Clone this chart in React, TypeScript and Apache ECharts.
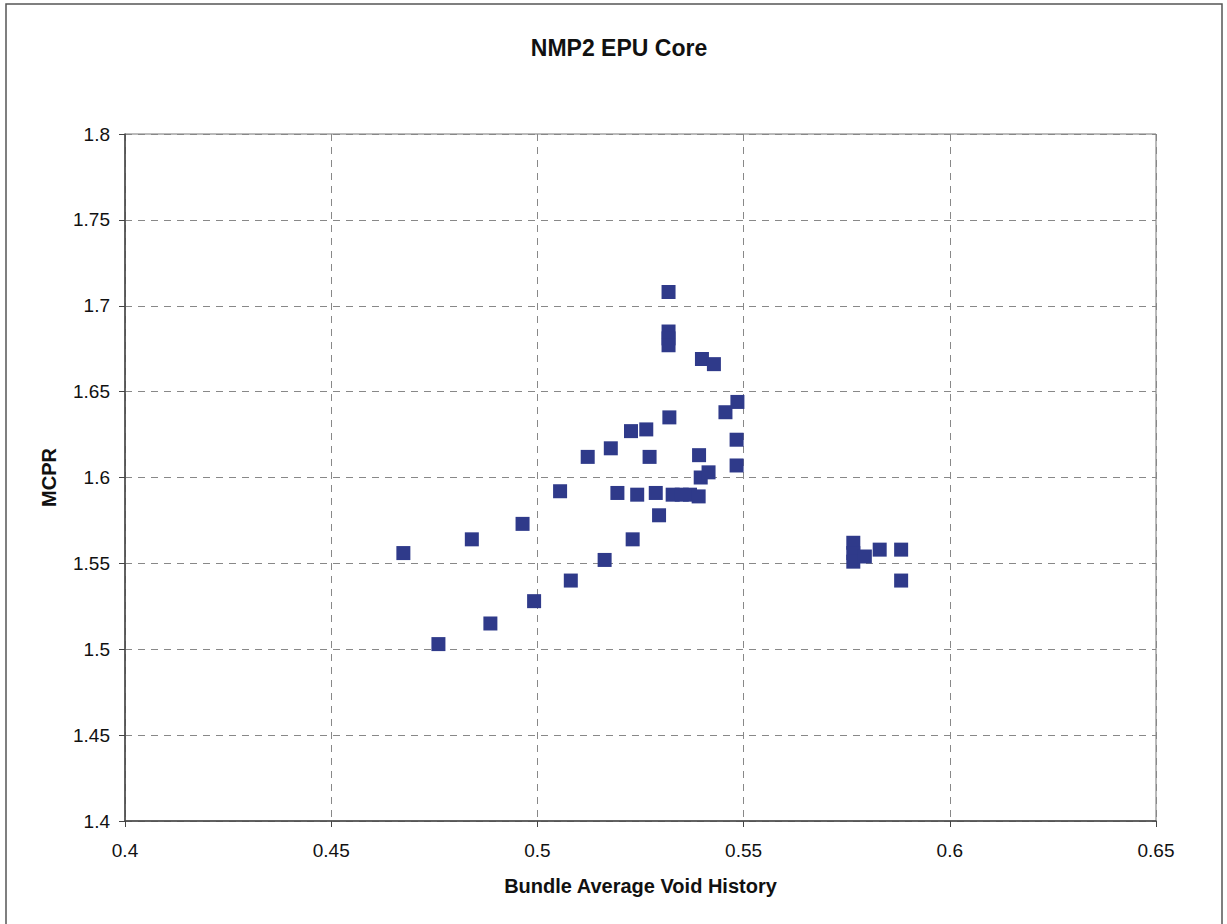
import React, { useEffect, useRef } from "react";
import * as echarts from "echarts";

const chartTitle = "NMP2 EPU Core";
const xAxisName = "Bundle Average Void History";
const yAxisName = "MCPR";

const voidHistory = [
  0.4675, 0.476, 0.4841, 0.4886, 0.4964, 0.4992, 0.5055, 0.5081, 0.5122, 0.5163,
  0.5178, 0.5194, 0.5227, 0.5231, 0.5242, 0.5264, 0.5272, 0.5287, 0.5295, 0.5318,
  0.5318, 0.5318, 0.5318, 0.532, 0.5328, 0.535, 0.537, 0.5391, 0.5392, 0.5396,
  0.5399, 0.5415, 0.5428, 0.5456, 0.5483, 0.5483, 0.5485, 0.5766, 0.5766, 0.5766,
  0.5794, 0.583, 0.5882, 0.5882,
];

const mcpr = [
  1.556, 1.503, 1.564, 1.515, 1.573, 1.528, 1.592, 1.54, 1.612, 1.552,
  1.617, 1.591, 1.627, 1.564, 1.59, 1.628, 1.612, 1.591, 1.578, 1.708,
  1.685, 1.681, 1.677, 1.635, 1.59, 1.59, 1.59, 1.589, 1.613, 1.6,
  1.669, 1.603, 1.666, 1.638, 1.622, 1.607, 1.644, 1.562, 1.556, 1.551,
  1.554, 1.558, 1.558, 1.54,
];

const xMin = 0.4;
const xMax = 0.65;
const xStep = 0.05;
const yMin = 1.4;
const yMax = 1.8;
const yStep = 0.05;

const FONT = 'Arial, "Liberation Sans", sans-serif';

export default function App() {
  const ref = useRef<HTMLDivElement>(null);

  useEffect(() => {
    if (!ref.current) return;
    const chart = echarts.init(ref.current, null, { renderer: "svg" });
    const points = voidHistory.map((x, i) => [x, mcpr[i]]);
    const fmt = (v: number) => String(parseFloat(v.toFixed(3)));
    chart.setOption({
      animation: false,
      backgroundColor: "#ffffff",
      title: {
        text: chartTitle,
        left: 614,
        textAlign: "center",
        top: 31,
        textStyle: { fontFamily: FONT, fontSize: 23, fontWeight: "bold", color: "#111" },
      },
      graphic: [
        {
          type: "rect",
          shape: { x: 6, y: 4, width: 1216, height: 960 },
          style: { fill: "none", stroke: "#555", lineWidth: 1.5 },
          silent: true,
        },
      ],
      grid: {
        left: 125,
        right: 71,
        top: 134,
        bottom: 103,
        show: true,
        borderColor: "#777",
        borderWidth: 1,
        backgroundColor: "transparent",
      },
      xAxis: {
        type: "value",
        min: xMin,
        max: xMax,
        interval: xStep,
        name: xAxisName,
        nameLocation: "middle",
        nameGap: 55,
        nameTextStyle: { fontFamily: FONT, fontSize: 20, fontWeight: "bold", color: "#111" },
        axisLine: { show: true, lineStyle: { color: "#444", width: 1.5 } },
        axisTick: { show: true, inside: false, length: 6, lineStyle: { color: "#444" } },
        axisLabel: {
          fontFamily: FONT,
          fontSize: 19,
          color: "#111",
          margin: 20,
          formatter: fmt,
        },
        splitLine: {
          show: true,
          lineStyle: { color: "#888", type: [7, 6], width: 1 },
        },
      },
      yAxis: {
        type: "value",
        min: yMin,
        max: yMax,
        interval: yStep,
        name: yAxisName,
        nameLocation: "middle",
        nameGap: 66,
        nameTextStyle: { fontFamily: FONT, fontSize: 20, fontWeight: "bold", color: "#111" },
        axisLine: { show: true, lineStyle: { color: "#444", width: 1.5 } },
        axisTick: { show: true, inside: false, length: 6, lineStyle: { color: "#444" } },
        axisLabel: {
          fontFamily: FONT,
          fontSize: 19,
          color: "#111",
          margin: 15,
          formatter: fmt,
        },
        splitLine: {
          show: true,
          lineStyle: { color: "#888", type: [7, 6], width: 1 },
        },
      },
      series: [
        {
          type: "scatter",
          data: points,
          symbol: "rect",
          symbolSize: 14,
          itemStyle: { color: "#2f3a8a", opacity: 1 },
        },
      ],
    });
    return () => chart.dispose();
  }, []);

  return (
    <div
      ref={ref}
      style={{ position: "fixed", left: 0, top: 0, width: 1227, height: 924 }}
    />
  );
}
